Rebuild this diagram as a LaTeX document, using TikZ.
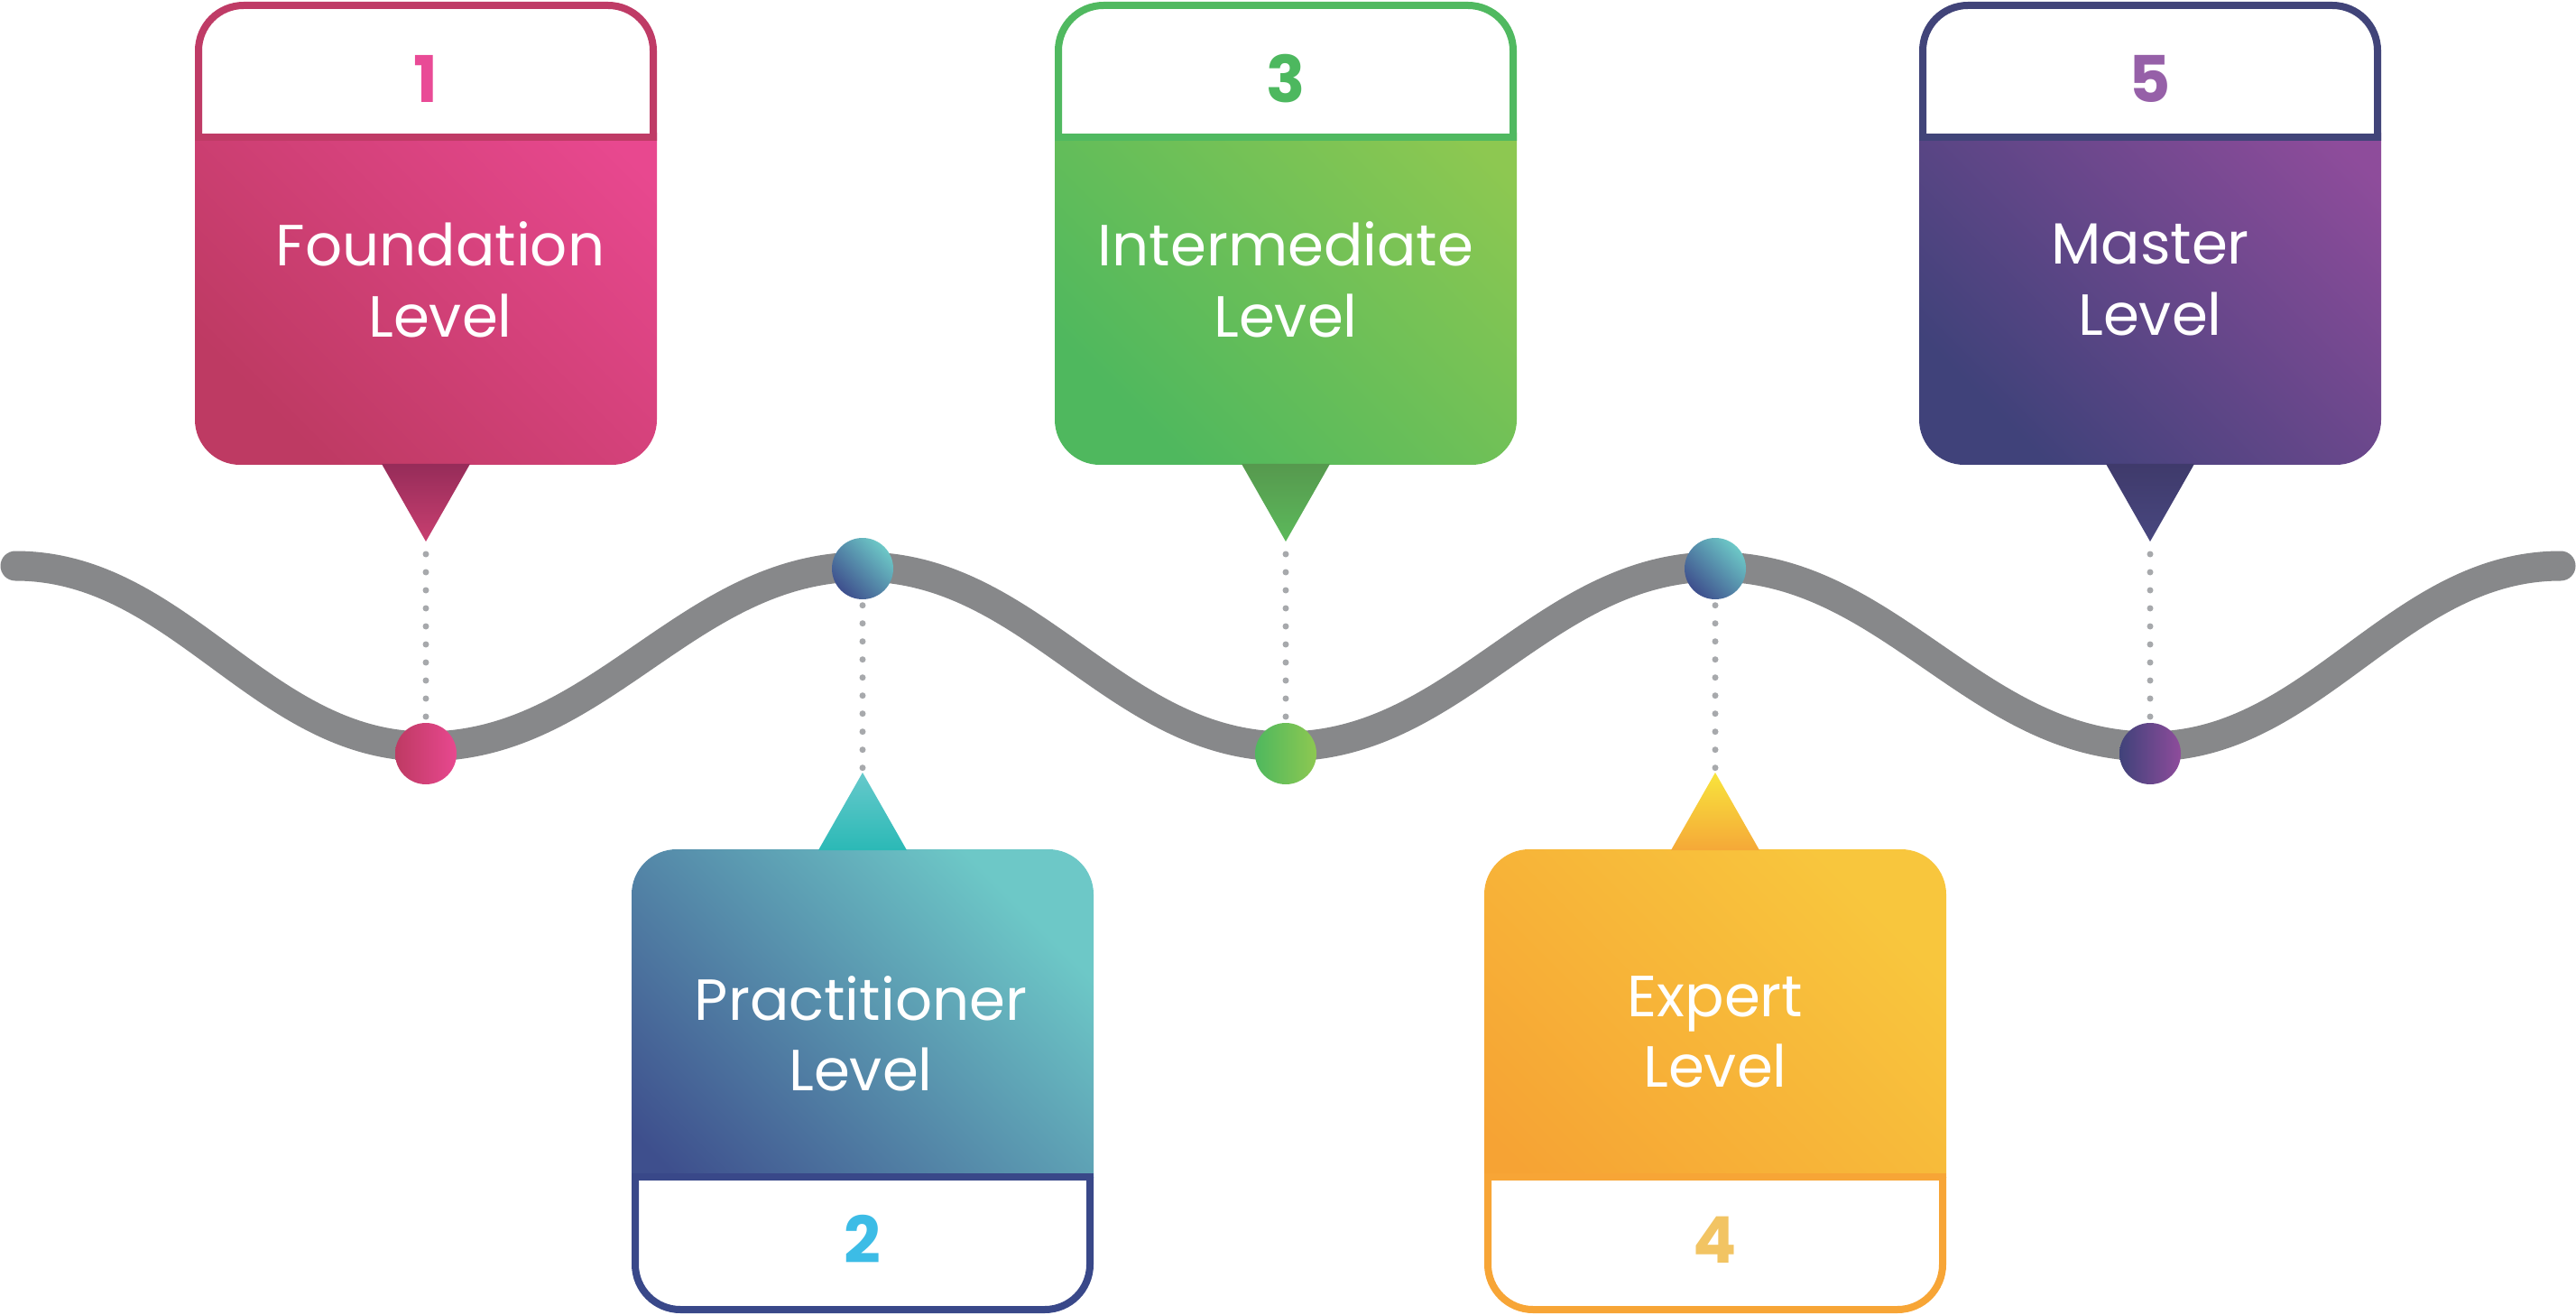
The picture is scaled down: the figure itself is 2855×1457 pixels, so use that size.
\documentclass[tikz,border=0pt]{standalone}
\usepackage{fontspec}
\setmainfont{Poppins}
\definecolor{waveg}{HTML}{87888A}
\definecolor{dotg}{HTML}{A7A9AC}
% box 1
\definecolor{aDark}{HTML}{BE3A63}\definecolor{aLight}{HTML}{E8488F}
\definecolor{aLine}{HTML}{BF3B66}\definecolor{aNum}{HTML}{E94B96}
\definecolor{aTriT}{HTML}{962C59}\definecolor{aTriB}{HTML}{C83F70}
% box 2
\definecolor{bDark}{HTML}{3E4F8D}\definecolor{bLight}{HTML}{6DC8C7}
\definecolor{bLine}{HTML}{394889}\definecolor{bNum}{HTML}{3CBCE6}
\definecolor{bTriT}{HTML}{66C9CB}\definecolor{bTriB}{HTML}{2BB9B6}
% box 3
\definecolor{cDark}{HTML}{4FB85E}\definecolor{cLight}{HTML}{8DC851}
\definecolor{cLine}{HTML}{50B960}\definecolor{cNum}{HTML}{4DB85F}
\definecolor{cTriT}{HTML}{56994E}\definecolor{cTriB}{HTML}{5CB95B}
% box 4
\definecolor{dDark}{HTML}{F6A334}\definecolor{dLight}{HTML}{F8C63D}
\definecolor{dLine}{HTML}{F7A536}\definecolor{dNum}{HTML}{F2C463}
\definecolor{dTriT}{HTML}{F8E43C}\definecolor{dTriB}{HTML}{F5A838}
% box 5
\definecolor{eDark}{HTML}{40427A}\definecolor{eLight}{HTML}{8E4C9B}
\definecolor{eLine}{HTML}{414479}\definecolor{eNum}{HTML}{9660A8}
\definecolor{eTriT}{HTML}{3F3A6B}\definecolor{eTriB}{HTML}{48477F}

\newcommand\TopBox[7]{%
\begin{scope}[shift={(#1,0)}]
  \begin{scope}
    \clip (-270,148) rectangle (270,540);
    \shade[bottom color=#2, top color=#3, shading angle=-45, rounded corners=5mm] (-256,60) rectangle (256,515);
  \end{scope}
  \shade[top color=#5, bottom color=#6] (-49,514) -- (49,514) -- (0,600) -- cycle;
  \coordinate (tip#7) at (0,600);
  \begin{scope}
    \clip (-270,-10) rectangle (270,156);
    \filldraw[fill=white, draw=#4, line width=0.8mm, rounded corners=5mm] (-252,6) rectangle (252,300);
  \end{scope}
  \draw[#4, line width=0.8mm] (-256,152) -- (256,152);
\end{scope}}

\newcommand\BotBox[7]{%
\begin{scope}[shift={(#1,0)}]
  \begin{scope}
    \clip (-270,900) rectangle (270,1304);
    \shade[bottom color=#2, top color=#3, shading angle=-45, rounded corners=5mm] (-256,941) rectangle (256,1400);
  \end{scope}
  \shade[top color=#5, bottom color=#6] (0,856) -- (49,942) -- (-49,942) -- cycle;
  \coordinate (tip#7) at (0,856);
  \begin{scope}
    \clip (-270,1304) rectangle (270,1470);
    \filldraw[fill=white, draw=#4, line width=0.8mm, rounded corners=5mm] (-252,1150) rectangle (252,1451);
  \end{scope}
  \draw[#4, line width=0.8mm] (-256,1304) -- (256,1304);
\end{scope}}

\begin{document}
\begin{tikzpicture}[x=0.1mm, y=-0.1mm,
  wave/.style={draw=waveg, line width=3.3mm, line cap=round},
  dotline/.style={draw=dotg, line width=0.7mm, line cap=round, dash pattern=on 0pt off 2mm},
  dotnode/.style={circle, minimum size=6.8mm, inner sep=0pt, draw=none},
  lbl/.style={text=white, font=\fontsize{18.3pt}{22pt}\selectfont, inner sep=0pt, anchor=base},
  num/.style={font=\fontsize{20.3pt}{24pt}\selectfont\bfseries, inner sep=0pt, anchor=base}]
\useasboundingbox (0,0) rectangle (2855,1457);

% wave
\coordinate (w0) at (17,627);
\coordinate (w1) at (472,827);
\coordinate (w2) at (956,628);
\coordinate (w3) at (1425,827);
\coordinate (w4) at (1901,628);
\coordinate (w5) at (2383,827);
\coordinate (w6) at (2838,627);
\draw[wave] (w0) .. controls +(182,0) and +(-182,0) .. (w1)
  .. controls +(194,0) and +(-194,0) .. (w2)
  .. controls +(188,0) and +(-188,0) .. (w3)
  .. controls +(190,0) and +(-190,0) .. (w4)
  .. controls +(193,0) and +(-193,0) .. (w5)
  .. controls +(182,0) and +(-182,0) .. (w6);

% boxes
\TopBox{472}{aDark}{aLight}{aLine}{aTriT}{aTriB}{1}
\BotBox{956}{bDark}{bLight}{bLine}{bTriT}{bTriB}{2}
\TopBox{1425}{cDark}{cLight}{cLine}{cTriT}{cTriB}{3}
\BotBox{1901}{dDark}{dLight}{dLine}{dTriT}{dTriB}{4}
\TopBox{2383}{eDark}{eLight}{eLine}{eTriT}{eTriB}{5}

% dots on the wave
\node[dotnode, left color=aDark, right color=aLight] (d1) at (472,835) {};
\node[dotnode, bottom color=bDark, top color=bLight, shading angle=-45] (d2) at (956,630) {};
\node[dotnode, left color=cDark, right color=cLight] (d3) at (1425,835) {};
\node[dotnode, bottom color=bDark, top color=bLight, shading angle=-45] (d4) at (1901,630) {};
\node[dotnode, left color=eDark, right color=eLight] (d5) at (2383,835) {};

% dotted connectors
\draw[dotline] ([yshift=-1.4mm]tip1) -- (d1.north);
\draw[dotline] ([yshift=-0.6mm]d2.south) -- (tip2);
\draw[dotline] ([yshift=-1.4mm]tip3) -- (d3.north);
\draw[dotline] ([yshift=-0.6mm]d4.south) -- (tip4);
\draw[dotline] ([yshift=-1.4mm]tip5) -- (d5.north);

% numbers
\node[num, text=aNum] (n1) at (472,114) {1};
\node[num, text=bNum] (n2) at (956,1399) {2};
\node[num, text=cNum] (n3) at (1425,114) {3};
\node[num, text=dNum] (n4) at (1901,1399) {4};
\node[num, text=eNum] (n5) at (2383,114) {5};

% labels
\node[lbl] (l1a) at (488,295) {Foundation};
\node[lbl] (l1b) at (488,374) {Level};
\node[lbl] (l2a) at (954,1130) {Practitioner};
\node[lbl] (l2b) at (954,1208) {Level};
\node[lbl] (l3a) at (1425,295) {Intermediate};
\node[lbl] (l3b) at (1425,374) {Level};
\node[lbl] (l4a) at (1901,1126) {Expert};
\node[lbl] (l4b) at (1901,1204) {Level};
\node[lbl] (l5a) at (2383,293) {Master};
\node[lbl] (l5b) at (2383,372) {Level};
\end{tikzpicture}
\end{document}
